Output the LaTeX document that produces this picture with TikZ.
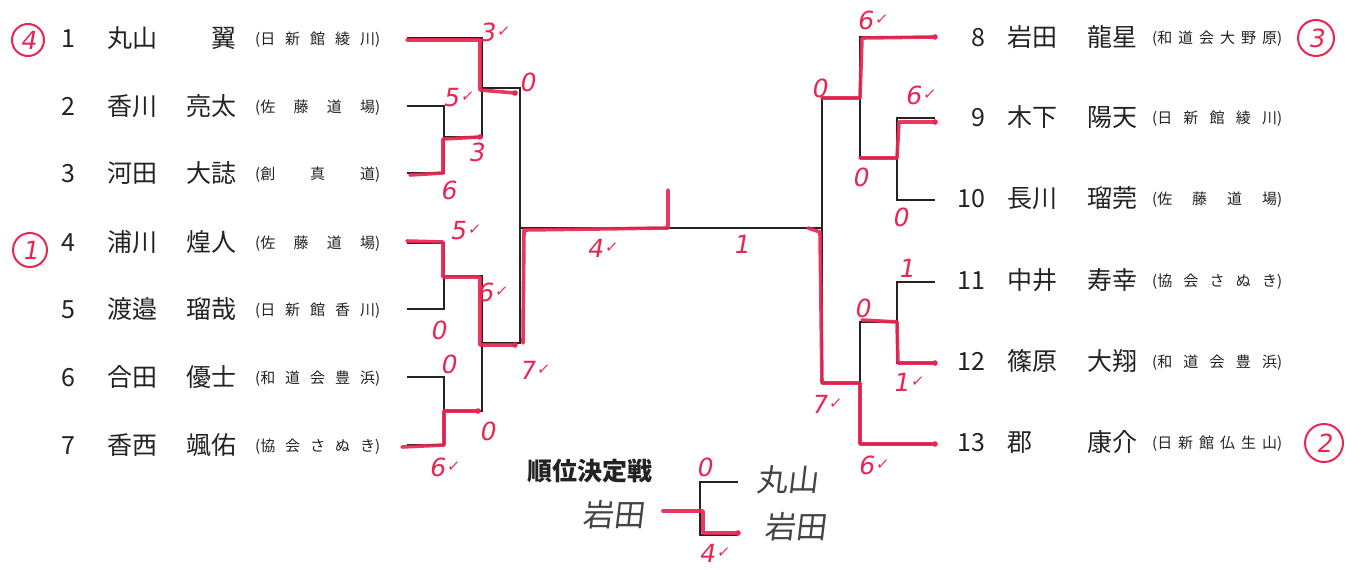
\documentclass[tikz,border=0pt]{standalone}
\usepackage{fontspec}
\setmainfont{Noto Sans CJK JP}
\newfontfamily\hand[FakeSlant=0.18]{DejaVu Sans}
\newfontfamily\cjkhand[FakeSlant=0.12]{Noto Sans CJK JP}
\definecolor{mk}{RGB}{233,38,82}
\definecolor{ink}{RGB}{35,35,35}
\newcommand{\ck}{\hspace{2pt}{\fontsize{15}{15}\selectfont\raisebox{5pt}{✓}}}
\newcommand{\orgL}[1]{\raisebox{3pt}{\makebox[125pt][s]{\fontsize{15}{15}\selectfont #1}}}
\newcommand{\orgR}[1]{\raisebox{3pt}{\makebox[130pt][s]{\fontsize{15}{15}\selectfont #1}}}
\newcommand{\entL}[4]{\makebox[24pt][c]{#1}\hspace{27pt}\makebox[65pt][l]{#2}\makebox[64pt][r]{#3}\hspace{19pt}\orgL{#4}}
\newcommand{\entR}[4]{\makebox[30pt][r]{#1}\hspace{22pt}\makebox[65pt][l]{#2}\makebox[65pt][r]{#3}\hspace{15pt}\orgR{#4}}
\tikzset{
  entry/.style={anchor=base west, inner sep=0pt, text=ink, font=\fontsize{25}{25}\selectfont},
  brk/.style={draw=ink, line width=1.3pt},
  mkline/.style={draw=mk, line width=3.6pt, line cap=round, line join=round, opacity=0.92},
  mklab/.style={text=mk, inner sep=0pt, font=\hand\fontsize{25}{25}\selectfont},
  ring/.style={draw=mk, line width=2pt},
  dot/.style={fill=mk},
  hw/.style={text=ink!85, inner sep=0pt, font=\cjkhand\fontsize{31}{31}\selectfont},
}
\begin{document}
\begin{tikzpicture}[x=1pt,y=-1pt]
\useasboundingbox (0,0) rectangle (1369,570);
\fill[white] (0,0) rectangle (1369,570);

% ---------- entries left ----------
\node[entry] (e1) at (56,47.5) {\entL{1}{丸山}{翼}{(日\hfill 新\hfill 館\hfill 綾\hfill 川)}};
\node[entry] (e2) at (56,115.5) {\entL{2}{香川}{亮太}{(佐\hfill 藤\hfill 道\hfill 場)}};
\node[entry] (e3) at (56,182.5) {\entL{3}{河田}{大誌}{(創\hfill 真\hfill 道)}};
\node[entry] (e4) at (56,251.5) {\entL{4}{浦川}{煌人}{(佐\hfill 藤\hfill 道\hfill 場)}};
\node[entry] (e5) at (56,318.5) {\entL{5}{渡邉}{瑠哉}{(日\hfill 新\hfill 館\hfill 香\hfill 川)}};
\node[entry] (e6) at (56,386.5) {\entL{6}{合田}{優士}{(和\hfill 道\hfill 会\hfill 豊\hfill 浜)}};
\node[entry] (e7) at (56,454.5) {\entL{7}{香西}{颯佑}{(協\hfill 会\hfill さ\hfill ぬ\hfill き)}};

% ---------- entries right ----------
\node[entry] (e8) at (955,46.5) {\entR{8}{岩田}{龍星}{(和\hfill 道\hfill 会\hfill 大\hfill 野\hfill 原)}};
\node[entry] (e9) at (955,126.5) {\entR{9}{木下}{陽天}{(日\hfill 新\hfill 館\hfill 綾\hfill 川)}};
\node[entry] (e10) at (955,207.5) {\entR{10}{長川}{瑠莞}{(佐\hfill 藤\hfill 道\hfill 場)}};
\node[entry] (e11) at (955,289.5) {\entR{11}{中井}{寿幸}{(協\hfill 会\hfill さ\hfill ぬ\hfill き)}};
\node[entry] (e12) at (955,370.5) {\entR{12}{篠原}{大翔}{(和\hfill 道\hfill 会\hfill 豊\hfill 浜)}};
\node[entry] (e13) at (955,451.5) {\entR{13}{郡}{康介}{(日\hfill 新\hfill 館\hfill 仏\hfill 生\hfill 山)}};

% ---------- bracket coordinates ----------
\coordinate (L1) at (407,38);  \coordinate (L2) at (407,106);
\coordinate (L3) at (407,173); \coordinate (L4) at (407,243);
\coordinate (L5) at (407,309); \coordinate (L6) at (407,377);
\coordinate (L7) at (407,445);
\coordinate (A23) at (444,137); \coordinate (A45) at (444,276);
\coordinate (A67) at (444,411);
\coordinate (B123) at (482,88); \coordinate (B4567) at (482,343);
\coordinate (FL) at (520,228);
\coordinate (R8) at (935,37);   \coordinate (R9) at (935,118);
\coordinate (R10) at (935,200); \coordinate (R11) at (935,282);
\coordinate (R12) at (935,363); \coordinate (R13) at (935,444);
\coordinate (A910) at (897,158); \coordinate (A1112) at (897,322);
\coordinate (B8910) at (860,98); \coordinate (B1113) at (860,383);
\coordinate (FR) at (822,228);
\coordinate (P1) at (738,482); \coordinate (P2) at (738,535);
\coordinate (PM) at (700,508);

% ---------- black bracket ----------
\draw[brk] (L2) -| (A23) |- (L3);
\draw[brk] (L1) -| (B123) |- (A23);
\draw[brk] (L4) -| (A45) |- (L5);
\draw[brk] (L6) -| (A67) |- (L7);
\draw[brk] (A45) -| (B4567) |- (A67);
\draw[brk] (B123) -| (FL) |- (B4567);
\draw[brk] (FL) -- (FR);
\draw[brk] (R9) -| (A910) |- (R10);
\draw[brk] (R8) -| (B8910) |- (A910);
\draw[brk] (R11) -| (A1112) |- (R12);
\draw[brk] (A1112) -| (B1113) |- (R13);
\draw[brk] (B8910) -| (FR) |- (B1113);
\draw[brk] (P1) -| (PM) |- (P2);

% ---------- red marker (winners) ----------
\draw[mkline] (407,40) -- (480,40) -- (480,90) -- (515,93);
\draw[mkline] (410,175) -- (443,173) -- (443,139) -- (480,137);
\draw[mkline] (407,241) -- (443,242) -- (443,277) -- (480,277) -- (480,345) -- (515,345);
\draw[mkline] (402,447) -- (444,445) -- (444,411) -- (478,411);
\draw[mkline] (523,343) -- (524,230) -- (668,228) -- (668,190);
\draw[mkline] (935,37) -- (862,38) -- (860,98) -- (822,98);
\draw[mkline] (935,122) -- (899,122) -- (897,158) -- (860,158);
\draw[mkline] (935,363) -- (898,363) -- (897,322) -- (862,320);
\draw[mkline] (935,444) -- (860,444) -- (860,383) -- (822,383) -- (820,232) -- (808,228);
\draw[mkline] (663,511) -- (703,511) -- (703,533) -- (738,533);
\foreach \p in {(515,93),(480,137),(515,345),(478,411),(935,37),(935,122),(935,363),(935,444),(738,533)}
  \fill[dot] \p circle[radius=2.8pt];

% ---------- red scores ----------
\node[mklab] (s1) at (494,32) {3\ck};
\node[mklab] (s2) at (527,82) {0};
\node[mklab] (s3) at (458,98) {5\ck};
\node[mklab] (s4) at (476,152) {3};
\node[mklab] (s5) at (448,190) {6};
\node[mklab] (s6) at (465,231) {5\ck};
\node[mklab] (s7) at (492,292) {6\ck};
\node[mklab] (s8) at (438,330) {0};
\node[mklab] (s9) at (448,364) {0};
\node[mklab] (s10) at (534,370) {7\ck};
\node[mklab] (s11) at (487,431) {0};
\node[mklab] (s12) at (444,467) {6\ck};
\node[mklab] (s13) at (602,248) {4\ck};
\node[mklab] (s14) at (741,244) {1};
\node[mklab] (s15) at (872,20) {6\ck};
\node[mklab] (s16) at (819,88) {0};
\node[mklab] (s17) at (920,95) {6\ck};
\node[mklab] (s18) at (860,177) {0};
\node[mklab] (s19) at (900,217) {0};
\node[mklab] (s20) at (906,268) {1};
\node[mklab] (s21) at (862,308) {0};
\node[mklab] (s22) at (908,382) {1\ck};
\node[mklab] (s23) at (826,404) {7\ck};
\node[mklab] (s24) at (873,465) {6\ck};
\node[mklab] (s25) at (704,467) {0};
\node[mklab] (s26) at (714,553) {4\ck};

% ---------- circled ranks ----------
\draw[ring] (28,40) circle[radius=16pt];
\node[mklab] (c1) at (28,40) {4};
\draw[ring] (30,250) circle[radius=17pt];
\node[mklab] (c2) at (30,250) {1};
\draw[ring] (1316,38) circle[radius=18pt];
\node[mklab] (c3) at (1316,38) {3};
\draw[ring] (1324,443) circle[radius=19pt];
\node[mklab] (c4) at (1324,443) {2};

% ---------- play-off ----------
\node[inner sep=0pt, text=ink, font=\bfseries\fontsize{25}{25}\selectfont] (ttl) at (590,471) {順位決定戦};
\node[hw] (h1) at (787,480) {丸山};
\node[hw] (h2) at (795,527) {岩田};
\node[hw] (h3) at (613,515) {岩田};
\end{tikzpicture}
\end{document}
